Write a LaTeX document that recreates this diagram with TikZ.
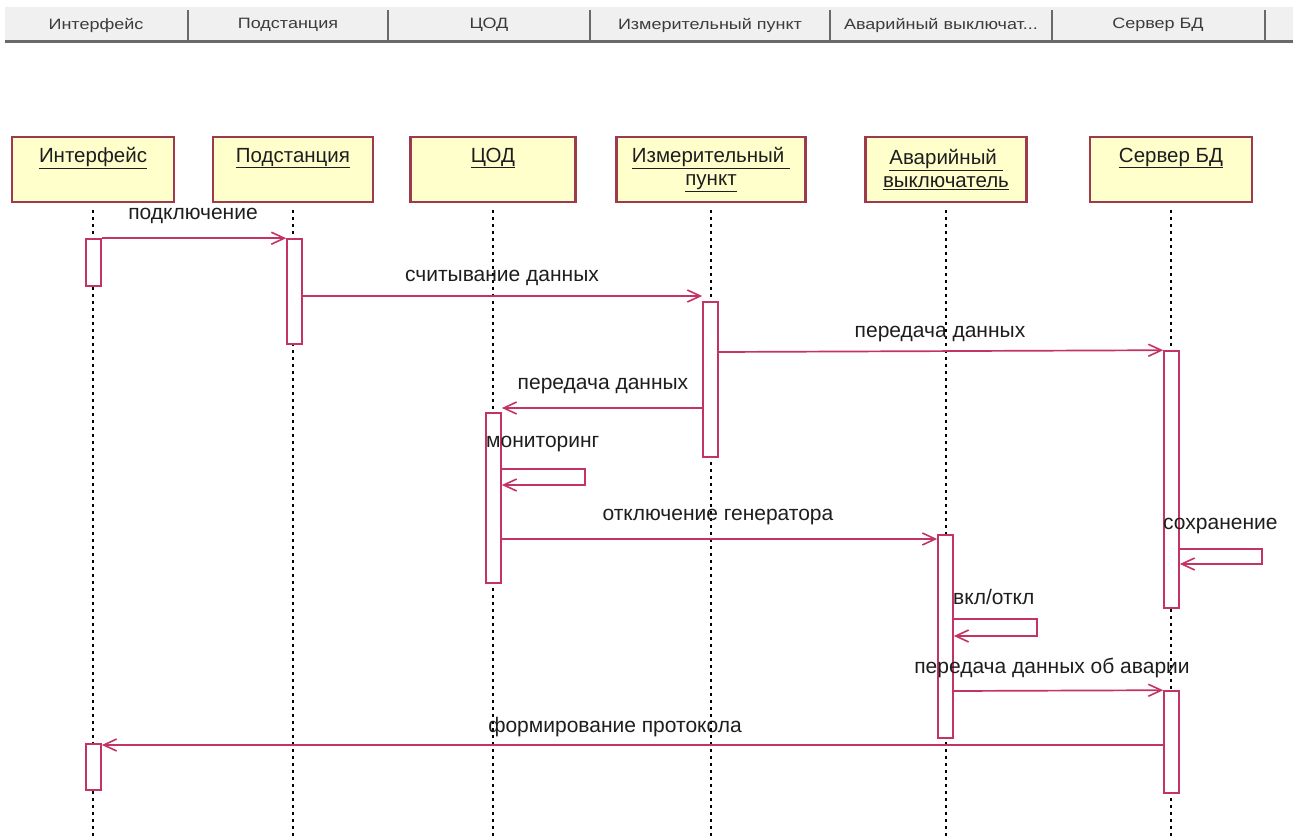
\documentclass[tikz,border=0pt]{standalone}
\usepackage{fontspec}
\setmainfont{Liberation Sans}
\usetikzlibrary{arrows.meta,calc}
\definecolor{crim}{RGB}{196,52,98}
\definecolor{boxborder}{RGB}{158,58,78}
\definecolor{boxfill}{RGB}{255,255,204}
\definecolor{txt}{RGB}{30,30,30}
\definecolor{hdrbg}{RGB}{240,240,240}
\definecolor{hdrline}{RGB}{105,105,105}
\definecolor{hdrtxt}{RGB}{60,60,60}
\begin{document}
\begin{tikzpicture}[x=1pt,y=-1pt,
  head/.style={draw=boxborder, line width=2.2pt, fill=boxfill, minimum height=65pt, inner sep=0pt},
  ttl/.style={text=txt, font=\fontsize{20.5}{24}\selectfont, inner sep=0pt, align=center},
  life/.style={black, line width=1.8pt, dash pattern=on 3pt off 4pt},
  act/.style={draw=crim, line width=1.6pt, fill=white, minimum width=15pt, inner sep=0pt},
  msg/.style={crim, line width=1.7pt, -{Straight Barb[length=13pt,width=12pt,line width=1.6pt]}},
  lbl/.style={text=txt, font=\fontsize{21}{24}\selectfont, inner sep=0pt},
  tab/.style={text=hdrtxt, font=\fontsize{15}{17}\selectfont, inner sep=0pt},
  sep/.style={hdrline, line width=1.5pt}]
\useasboundingbox (0,0) rectangle (1293,838);
\fill[white] (0,0) rectangle (1293,838);

% header bar
\node[fill=hdrbg, minimum width=1288pt, minimum height=34pt, inner sep=0pt, anchor=north west] (bar) at (5,7) {};
\draw[hdrline, line width=2.5pt] (bar.south west) -- (bar.south east);
\foreach \x/\n in {188/s1,388/s2,590/s3,830/s4,1052/s5,1265/s6}{
  \coordinate (\n) at (\x,10);
  \draw[sep] (\n) -- (\n |- bar.south);
}
\node[tab] (h1) at (96,25) {\scalebox{1.2}[1]{Интерфейс}};
\node[tab] (h2) at (288,25) {\scalebox{1.2}[1]{Подстанция}};
\node[tab] (h3) at (489,25) {\scalebox{1.2}[1]{ЦОД}};
\node[tab] (h4) at (710,25) {\scalebox{1.2}[1]{Измерительный пункт}};
\node[tab] (h5) at (941,25) {\scalebox{1.2}[1]{Аварийный выключат...}};
\node[tab] (h6) at (1158,25) {\scalebox{1.2}[1]{Сервер БД}};

% object heads
\node[head, minimum width=162pt] (hI) at (93,169.5) {};
\node[head, minimum width=160pt] (hP) at (293,169.5) {};
\node[head, minimum width=165pt] (hC) at (493,169.5) {};
\node[head, minimum width=189pt] (hM) at (711,169.5) {};
\node[head, minimum width=161pt] (hA) at (946,169.5) {};
\node[head, minimum width=162pt] (hS) at (1171,169.5) {};

\node[ttl] (tI) at (93,158) {\underline{Интерфейс}};
\node[ttl] (tP) at (293,158) {\underline{Подстанция}};
\node[ttl] (tC) at (493,158) {\underline{ЦОД}};
\node[ttl] (tM) at (711,169.5) {\underline{Измерительный\ }\\[-1pt]\underline{пункт}};
\node[ttl] (tA) at (946,169.5) {\underline{Аварийный\ }\\[-1pt]\underline{выключатель}};
\node[ttl] (tS) at (1171,158) {\underline{Сервер БД}};

% lifelines
\foreach \h in {hI,hP,hC,hM,hA,hS}{
  \draw[life] ($(\h.south)+(0,7)$) -- (\h.south |- 0,838);
}

% activations
\node[act, minimum height=47pt] (aI1) at (93.5,262.5) {};
\node[act, minimum height=105pt] (aP) at (294.5,291.5) {};
\node[act, minimum height=155pt] (aM) at (710.5,379.5) {};
\node[act, minimum height=170pt] (aC) at (493.5,498) {};
\node[act, minimum height=257pt] (aS1) at (1171.5,479.5) {};
\node[act, minimum height=203pt] (aA) at (945.5,636.5) {};
\node[act, minimum height=102pt] (aS2) at (1171.5,742) {};
\node[act, minimum height=46pt] (aI2) at (93.5,767) {};

% messages
\draw[msg] (aI1.north east) -- (aP.north west);
\node[lbl] (m1) at (193,216) {подключение};

\draw[msg] (aP.east |- 0,296) -- (aM.west |- 0,296);
\node[lbl] (m2) at (502,278) {считывание данных};

\draw[msg] (aM.east |- 0,352) -- (aS1.north west);
\node[lbl] (m3) at (940,334) {передача данных};

\draw[msg] (aM.west |- 0,408) -- (aC.east |- 0,408);
\node[lbl] (m4) at (603,386) {передача данных};

\coordinate (lC) at (585,469);
\draw[msg] (aC.east |- lC) -- (lC) -- (lC |- 0,485) -- (aC.east |- 0,485);
\node[lbl, anchor=west] (m5) at (486,444) {мониторинг};

\draw[msg] (aC.east |- 0,539) -- (aA.west |- 0,539);
\node[lbl] (m6) at (718,517) {отключение генератора};

\coordinate (lS) at (1262,549);
\draw[msg] (aS1.east |- lS) -- (lS) -- (lS |- 0,564) -- (aS1.east |- 0,564);
\node[lbl, anchor=west] (m7) at (1163,526) {сохранение};

\coordinate (lA) at (1037,619);
\draw[msg] (aA.east |- lA) -- (lA) -- (lA |- 0,636) -- (aA.east |- 0,636);
\node[lbl, anchor=west] (m8) at (953,597) {вкл/откл};

\draw[msg] (aA.east |- 0,691) -- (aS2.north west);
\node[lbl] (m9) at (1052,668) {передача данных об аварии};

\draw[msg] (aS2.west |- 0,745) -- (aI2.east |- 0,745);
\node[lbl] (m10) at (615,727) {формирование протокола};
\end{tikzpicture}
\end{document}
